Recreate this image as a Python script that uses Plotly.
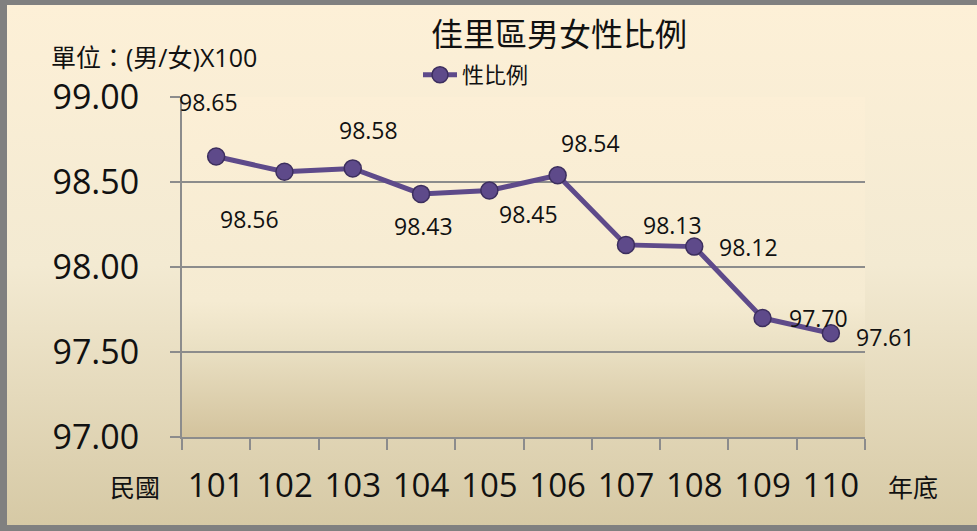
import base64
import plotly.graph_objects as go

# ---- data ----
years = ["101", "102", "103", "104", "105", "106", "107", "108", "109", "110"]
sex_ratio = [98.65, 98.56, 98.58, 98.43, 98.45, 98.54, 98.13, 98.12, 97.70, 97.61]
series_name = "性比例"
title_text = "佳里區男女性比例"
unit_text = "單位：(男/女)X100"
x_prefix = "民國"
x_suffix = "年底"
y_ticks = [97.0, 97.5, 98.0, 98.5, 99.0]

# label offsets in pixels (style, not data)
label_dx = [-8, -35, 16, 2, 39, 33, 47, 54, 56, 55]
label_dy = [55, -47, 38, -32, -23, 32, 20, 0, 0, -4]

W, H = 977, 531
L, R, T, B = 182, 865, 97, 437
pw, ph = R - L, B - T

NUM_FONT = "Open Sans, Noto Sans CJK TC, sans-serif"
CJK_FONT = "Noto Sans CJK TC, sans-serif"
LINE_COLOR = "#5E4A8A"
EDGE_COLOR = "#3C2E5E"


def grad_svg(stops):
    s = "".join(f'<stop offset="{o}" stop-color="{c}"/>' for o, c in stops)
    svg = ('<svg xmlns="http://www.w3.org/2000/svg" width="100" height="100" preserveAspectRatio="none">'
           '<defs><linearGradient id="g" x1="0" y1="0" x2="0" y2="1">' + s +
           '</linearGradient></defs><rect width="100" height="100" fill="url(#g)"/></svg>')
    return "data:image/svg+xml;base64," + base64.b64encode(svg.encode()).decode()


def px_to_paper_x(px):
    return (px - L) / pw


def px_to_paper_y(py):
    return (B - py) / ph


outer_img = grad_svg([(0, "#FDF0D7"), (0.5, "#F3EAD2"), (1, "#D6C9A5")])
plot_img = grad_svg([(0, "#FCEFD6"), (0.6, "#F5EBD2"), (0.75, "#E9DFC2"), (1, "#D3C39D")])

fig = go.Figure()
fig.add_trace(go.Scatter(
    x=years, y=sex_ratio, mode="lines+markers", name=series_name,
    line=dict(color=LINE_COLOR, width=5),
    marker=dict(size=17, color=LINE_COLOR, line=dict(color=EDGE_COLOR, width=1.5)),
))

annotations = []
for i, (yv, dx, dy) in enumerate(zip(sex_ratio, label_dx, label_dy)):
    annotations.append(dict(x=i, y=yv, xref="x", yref="y", text=f"{yv:.2f}", showarrow=False,
                            xshift=dx, yshift=dy, font=dict(family=NUM_FONT, size=23, color="#111")))

annotations += [
    dict(x=px_to_paper_x(49), y=px_to_paper_y(57), xref="paper", yref="paper", text=unit_text,
         showarrow=False, xanchor="left", yanchor="middle", font=dict(family=NUM_FONT, size=25, color="#111")),
    dict(x=px_to_paper_x(135), y=px_to_paper_y(486), xref="paper", yref="paper", text=x_prefix,
         showarrow=False, xanchor="center", yanchor="middle", font=dict(family=CJK_FONT, size=25, color="#111")),
    dict(x=px_to_paper_x(913), y=px_to_paper_y(486), xref="paper", yref="paper", text=x_suffix,
         showarrow=False, xanchor="center", yanchor="middle", font=dict(family=CJK_FONT, size=25, color="#111")),
]

images = [
    dict(source=outer_img, xref="paper", yref="paper", x=px_to_paper_x(7), y=px_to_paper_y(5),
         sizex=(990 - 7) / pw, sizey=(525 - 5) / ph, xanchor="left", yanchor="top",
         sizing="stretch", layer="below"),
    dict(source=plot_img, xref="paper", yref="paper", x=0, y=1, sizex=1, sizey=1,
         xanchor="left", yanchor="top", sizing="stretch", layer="below"),
]

fig.update_layout(
    width=W, height=H,
    margin=dict(l=L, r=W - R, t=T, b=H - B, pad=0, autoexpand=False),
    paper_bgcolor="#808080",
    plot_bgcolor="rgba(0,0,0,0)",
    title=dict(text=title_text, x=559 / W, xanchor="center", y=1 - 35 / H, yanchor="middle",
               font=dict(family=CJK_FONT, size=32, color="#111")),
    showlegend=True,
    legend=dict(orientation="h", x=px_to_paper_x(418), y=px_to_paper_y(54), xanchor="left", yanchor="top",
                bgcolor="rgba(0,0,0,0)", font=dict(family=CJK_FONT, size=22, color="#111"),
                itemwidth=34),
    annotations=annotations,
    images=images,
    xaxis=dict(type="category", tickson="boundaries", ticks="outside", ticklen=11, tickwidth=2,
               tickcolor="#8C8C8C", showline=True, linecolor="#8C8C8C", linewidth=2,
               showgrid=False, tickfont=dict(family=NUM_FONT, size=33, color="#111"),
               range=[-0.5, 9.5], ticklabelstandoff=18, tickangle=0, automargin=False),
    yaxis=dict(range=[97, 99], tickvals=y_ticks, tickformat=".2f", ticks="outside", ticklen=10,
               tickwidth=2, tickcolor="#8C8C8C", showline=True, linecolor="#8C8C8C", linewidth=2,
               showgrid=True, gridcolor="#8C8C8C", gridwidth=2, zeroline=False,
               tickfont=dict(family=NUM_FONT, size=34, color="#111"), ticklabelstandoff=24,
               automargin=False),
)

fig.write_html("out.html", config={"displayModeBar": False},
               post_script="document.body.style.margin='0';document.body.style.overflow='hidden';")
